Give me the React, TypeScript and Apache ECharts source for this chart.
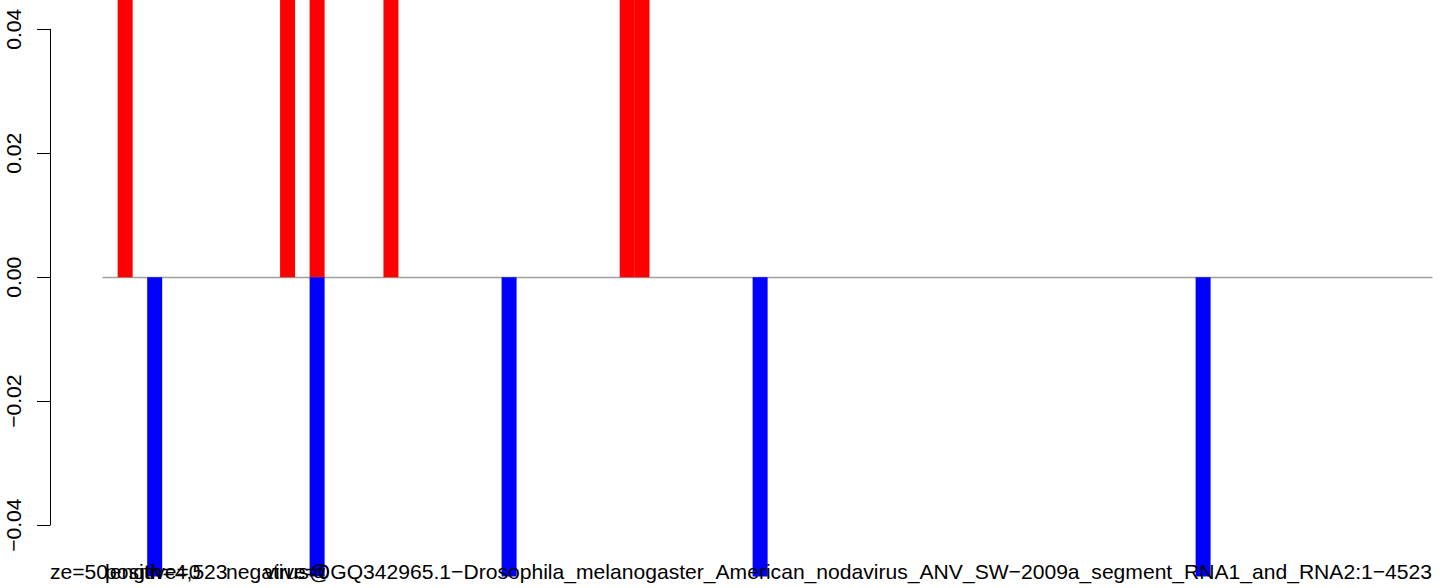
import React, { useEffect, useRef } from "react";
import * as echarts from "echarts";

// Bin index (window of 50 nt) and values; all bars run past the visible range (clipped)
const redBins = [2, 13, 15, 20, 36, 37];
const redValues = [0.06, 0.06, 0.06, 0.06, 0.06, 0.06];
const blueBins = [4, 15, 28, 45, 75];
const blueValues = [-0.06, -0.06, -0.06, -0.06, -0.06];
const yTickValues = [-0.04, -0.02, 0, 0.02, 0.04];

// Overlapping caption fragments under the plot
const captionFragments = ["ze=50", "positive=0", "length=4,523", "negative=0"];
const mainCaption =
  "virus@GQ342965.1\u2212Drosophila_melanogaster_American_nodavirus_ANV_SW\u22122009a_segment_RNA1_and_RNA2:1\u22124523";

const FONT = "'Liberation Sans', Arial, Helvetica, sans-serif";
const FS = 21.1;
const FRAG_X = [50, 105, 105, 226];

function fmt(v: number) {
  const s = Math.abs(v).toFixed(2);
  return v < -1e-9 ? "\u2212" + s : s;
}

export default function App() {
  const ref = useRef<HTMLDivElement>(null);
  useEffect(() => {
    const chart = echarts.init(ref.current!, null, { renderer: "svg" });
    const texts: any[] = captionFragments.map((t, i) => ({
      type: "text",
      x: FRAG_X[i],
      y: 571,
      z: 100,
      style: {
        text: t,
        fill: "#000",
        font: `${FS}px ${FONT}`,
        textAlign: "left",
        textVerticalAlign: "middle",
      },
    }));
    texts.push({
      type: "text",
      x: 1432,
      y: 571,
      z: 100,
      style: {
        text: mainCaption,
        fill: "#000",
        font: `${FS}px ${FONT}`,
        textAlign: "right",
        textVerticalAlign: "middle",
      },
    });
    chart.setOption({
      animation: false,
      backgroundColor: "#fff",
      grid: [
        { left: 103, top: 0, width: 1329, height: 576.5 },
        { left: 50, top: 29.3, width: 1, height: 495.8 },
      ],
      xAxis: [
        {
          gridIndex: 0,
          type: "value",
          min: 0.5,
          max: 90.5,
          axisLine: { show: true, onZero: true, lineStyle: { color: "#a0a0a0", width: 1.3 } },
          axisTick: { show: false },
          axisLabel: { show: false },
          splitLine: { show: false },
        },
        { gridIndex: 1, type: "value", min: 0, max: 1, show: false },
      ],
      yAxis: [
        {
          gridIndex: 0,
          type: "value",
          min: -0.04831,
          max: 0.04476,
          show: false,
          splitLine: { show: false },
        },
        {
          gridIndex: 1,
          type: "value",
          min: -0.04,
          max: 0.04,
          interval: 0.02,
          axisLine: { show: true, lineStyle: { color: "#000", width: 1 } },
          axisTick: { show: true, length: 13, lineStyle: { color: "#000", width: 1 } },
          axisLabel: {
            rotate: 90,
            margin: 26,
            fontSize: FS,
            fontFamily: FONT,
            color: "#000",
            customValues: yTickValues,
            formatter: (v: number) => fmt(v),
          },
          splitLine: { show: false },
        },
      ],
      series: [
        {
          type: "bar",
          xAxisIndex: 0,
          yAxisIndex: 0,
          data: redBins.map((b, i) => [b, redValues[i]]),
          barWidth: 15,
          barGap: "-100%",
          itemStyle: { color: "#ff0000" },
          clip: true,
        },
        {
          type: "bar",
          xAxisIndex: 0,
          yAxisIndex: 0,
          data: blueBins.map((b, i) => [b, blueValues[i]]),
          barWidth: 15,
          barGap: "-100%",
          itemStyle: { color: "#0000ff" },
          clip: true,
        },
      ],
      graphic: texts,
    });
    return () => chart.dispose();
  }, []);
  return <div ref={ref} style={{ width: 1444, height: 588, position: "absolute", left: 0, top: 0 }} />;
}
